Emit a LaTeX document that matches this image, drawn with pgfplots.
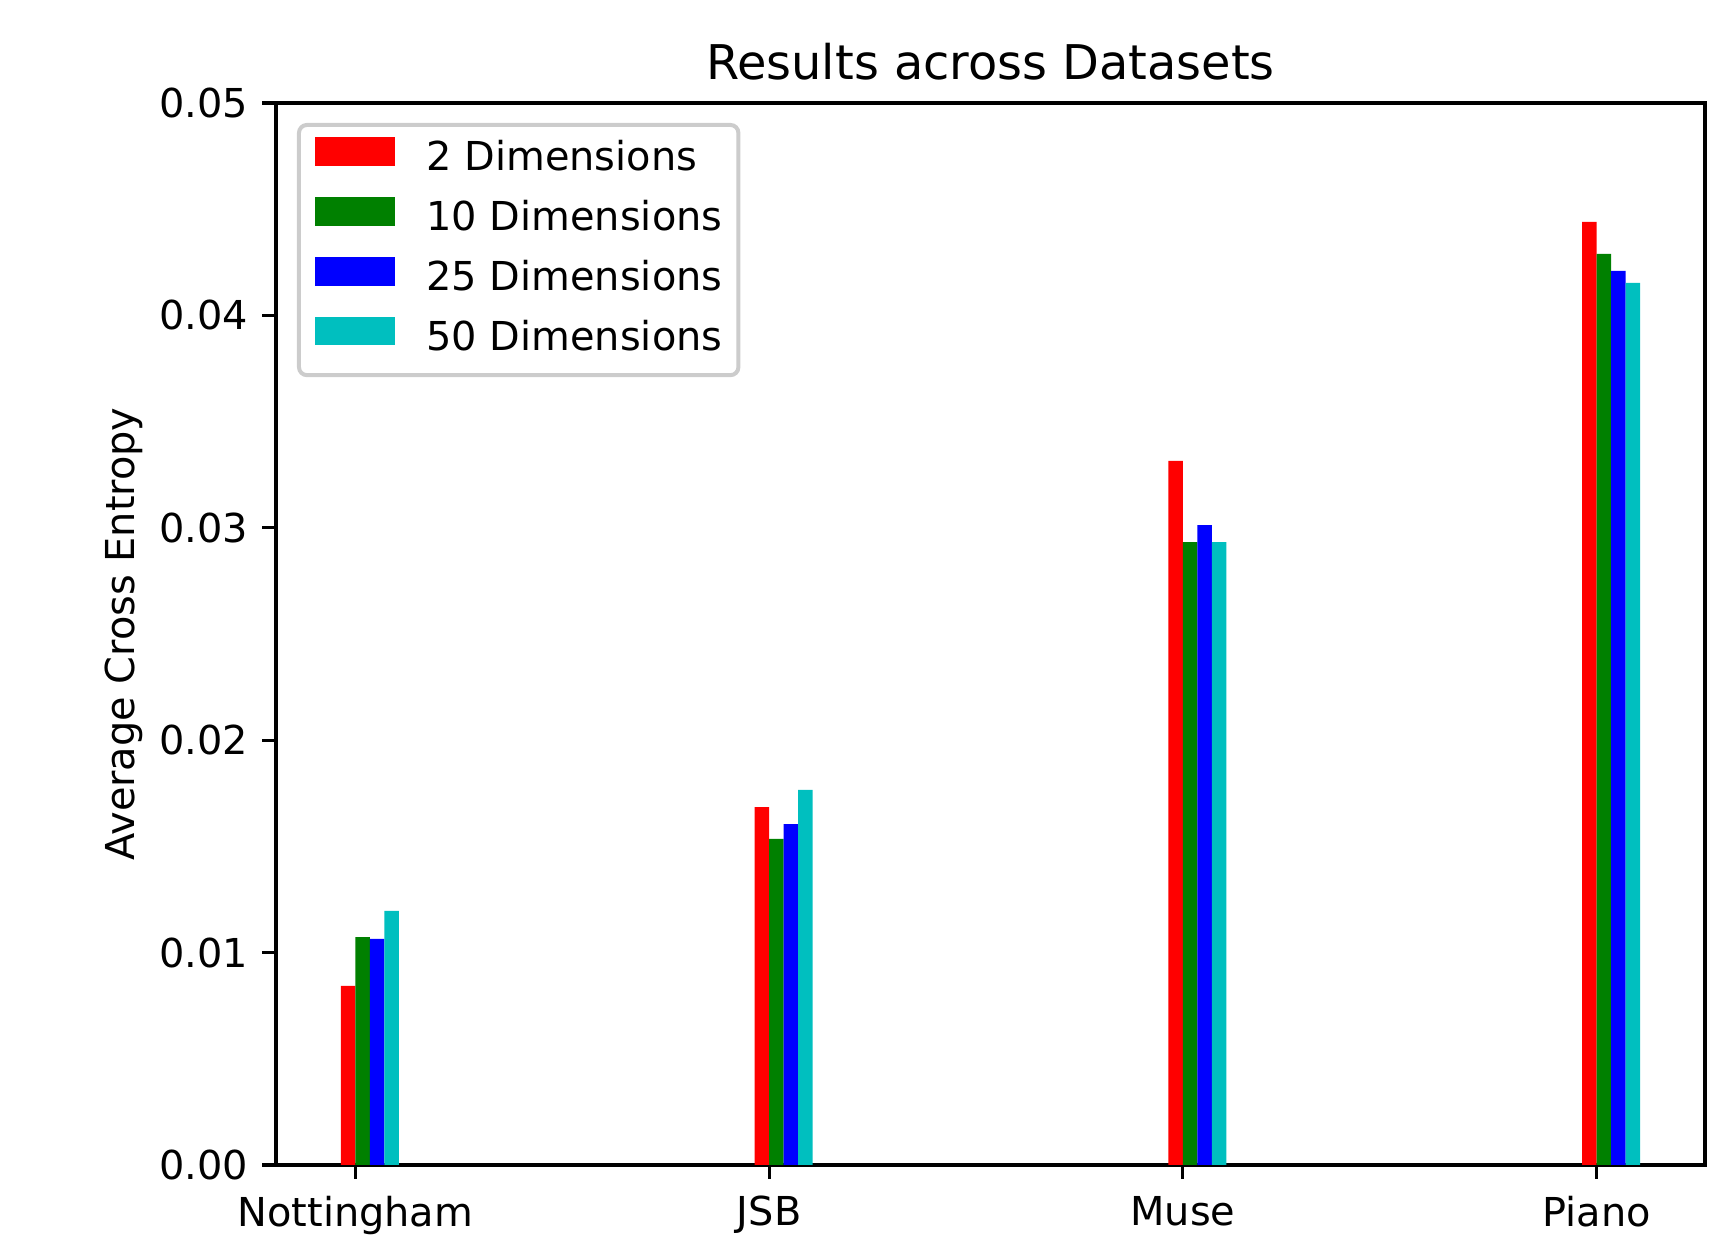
\documentclass[border=0pt]{standalone}
\usepackage{fontspec}
\setmainfont{DejaVu Sans}
\usepackage{pgfplots}
\pgfplotsset{compat=1.18}
\definecolor{mplred}{rgb}{1,0,0}
\definecolor{mplgreen}{rgb}{0,0.5,0}
\definecolor{mplblue}{rgb}{0,0,1}
\definecolor{mplcyan}{rgb}{0,0.75,0.75}
\begin{document}
\begin{tikzpicture}
\path[use as bounding box] (-0.9583in,-0.2778in) rectangle (5.0035in,4.0451in);
\begin{axis}[
  at={(0,0)}, anchor=south west, scale only axis,
  width=4.9618in, height=3.6875in,
  xmin=-0.192, xmax=3.262, ymin=0, ymax=0.05,
  ybar, bar width=0.035,
  xtick={0,1,2,3}, xticklabels={Nottingham,JSB,Muse,Piano},
  ytick={0,0.01,0.02,0.03,0.04,0.05},
  scaled y ticks=false,
  yticklabel style={/pgf/number format/.cd,fixed,fixed zerofill,precision=2,assume math mode=true},
  xticklabel style={yshift=-0.8pt},
  tick align=outside, major tick length=3.5pt,
  tick style={line width=0.8pt, black},
  xtick pos=left, ytick pos=left,
  axis line style={line width=0.8pt},
  font=\fontsize{10}{12}\selectfont,
  tick label style={font=\fontsize{10}{12}\selectfont},
  title={Results across Datasets},
  title style={font=\fontsize{12}{14}\selectfont, at={(0.5,1)}, anchor=base},
  ylabel={Average Cross Entropy},
  ylabel style={yshift=-2.75pt},
  legend style={at={(0.0147,0.9812)}, anchor=north west, draw=black!20, line width=1pt,
    rounded corners=2pt, inner xsep=4pt, inner ysep=1.4pt, row sep=0pt,
    font=\fontsize{10}{12}\selectfont,
    nodes={inner xsep=0pt, inner ysep=2.5pt, text depth=2.4pt},
    /tikz/every odd column/.append style={column sep=8pt}},
  legend cell align=left,
  legend image code/.code={\fill[#1, sharp corners] (0pt,-1.4pt) rectangle (20pt,5.8pt);},
]
\addplot[fill=mplred, draw=none, bar shift=-0.0175] coordinates {(0,0.00843) (1,0.01685) (2,0.03315) (3,0.04440)};
\addplot[fill=mplgreen, draw=none, bar shift=0.0175] coordinates {(0,0.01073) (1,0.01535) (2,0.02933) (3,0.04289)};
\addplot[fill=mplblue, draw=none, bar shift=0.0525] coordinates {(0,0.01064) (1,0.01605) (2,0.03013) (3,0.04209)};
\addplot[fill=mplcyan, draw=none, bar shift=0.0875] coordinates {(0,0.01196) (1,0.01766) (2,0.02933) (3,0.04153)};
\legend{2 Dimensions,10 Dimensions,25 Dimensions,50 Dimensions}
\end{axis}
\end{tikzpicture}
\end{document}
